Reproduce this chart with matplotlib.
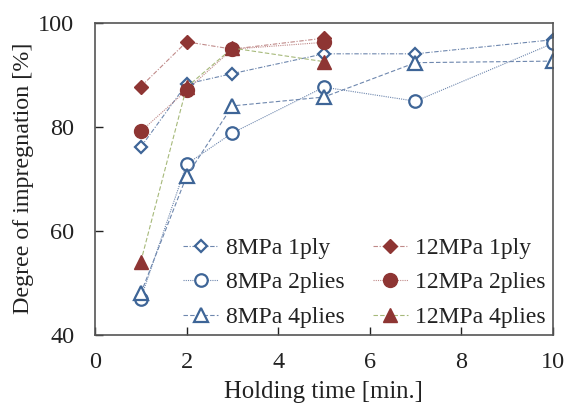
import matplotlib
matplotlib.use("Agg")
import matplotlib.pyplot as plt

plt.rcParams['font.family'] = ['Liberation Serif', 'DejaVu Serif']
plt.rcParams['mathtext.fontset'] = 'stix'

x_8_1 = [1, 2, 3, 5, 7, 10]
y_8_1 = [76.1, 88.2, 90.2, 94.0, 94.0, 96.7]
x_8_2 = [1, 2, 3, 5, 7, 10]
y_8_2 = [47.0, 72.8, 78.8, 87.6, 84.9, 96.0]
x_8_4 = [1, 2, 3, 5, 7, 10]
y_8_4 = [48.0, 70.5, 84.0, 85.7, 92.3, 92.6]
x_12_1 = [1, 2, 3, 5]
y_12_1 = [87.7, 96.3, 94.9, 97.0]
x_12_2 = [1, 2, 3, 5]
y_12_2 = [79.1, 87.0, 94.9, 96.2]
x_12_4 = [1, 2, 3, 5]
y_12_4 = [54.1, 87.6, 95.1, 92.5]

blue = '#3E6597'
red = '#8E3533'
olive = '#A6B97A'
red_line = '#C08A89'
blue_line = '#6E87AE'

fig = plt.figure(figsize=(5.67, 4.03), dpi=100)
ax = fig.add_axes([0.1676, 0.1687, 0.8074, 0.7753])

lw = 0.8
ax.plot(x_8_1, y_8_1, linestyle=(0, (4, 1.5, 1, 1.5)), color=blue_line, lw=lw,
        marker='D', ms=6.5, mfc='white', mec=blue, mew=1.6, label='8MPa 1ply')
ax.plot(x_8_2, y_8_2, linestyle=(0, (1, 1)), color=blue_line, lw=lw,
        marker='o', ms=9, mfc='white', mec=blue, mew=1.6, label='8MPa 2plies')
ax.plot(x_8_4, y_8_4, linestyle=(0, (4, 2)), color=blue_line, lw=lw,
        marker='^', ms=9.5, mfc='white', mec=blue, mew=1.6, label='8MPa 4plies')
ax.plot(x_12_1, y_12_1, linestyle=(0, (4, 1.5, 1, 1.5)), color=red_line, lw=lw,
        marker='D', ms=7.5, mfc=red, mec=red, label='12MPa 1ply')
ax.plot(x_12_2, y_12_2, linestyle=(0, (1, 1)), color=red_line, lw=lw,
        marker='o', ms=10, mfc=red, mec=red, label='12MPa 2plies')
ax.plot(x_12_4, y_12_4, linestyle=(0, (4, 2)), color=olive, lw=lw,
        marker='^', ms=10.5, mfc=red, mec=red, label='12MPa 4plies')

ax.set_xlim(0, 10)
ax.set_ylim(40, 100)
ax.set_xticks([0, 2, 4, 6, 8, 10])
ax.set_yticks([40, 60, 80, 100])
ax.tick_params(direction='in', length=5.5, width=1, labelsize=17.5, colors='#222222')
ax.tick_params(axis='x', pad=12)
ax.tick_params(axis='y', pad=15)
for s in ax.spines.values():
    s.set_color('#555555')
    s.set_linewidth(1.2)

ax.set_xlabel('Holding time [min.]', fontsize=17.8, color='#222222', labelpad=6)
ax.set_ylabel('Degree of impregnation [%]', fontsize=17.3, color='#222222', labelpad=3)

leg = ax.legend(ncol=2, loc='lower right', frameon=False, fontsize=17,
                handlelength=1.5, handletextpad=0.3, columnspacing=1.2,
                labelspacing=0.55, borderaxespad=0.0, borderpad=0.3,
                bbox_to_anchor=(1.0, 0.0))
for t in leg.get_texts():
    t.set_color('#222222')

fig.savefig('out.png', dpi=100)
